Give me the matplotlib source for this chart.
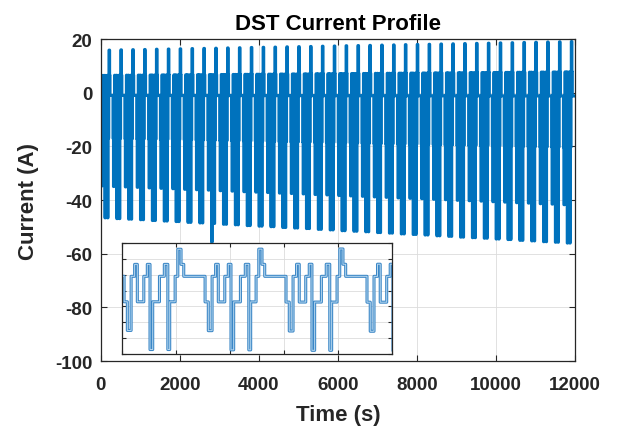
""" DST current profile over a full discharge, with a zoomed inset of a few cycles. """

import numpy
import matplotlib
matplotlib.use('Agg')
import matplotlib.pyplot as plt
import matplotlib.patheffects as pe

plt.rcParams['font.family'] = ['Liberation Sans', 'DejaVu Sans']
plt.rcParams['font.weight'] = 'bold'
plt.rcParams['axes.unicode_minus'] = False

# One DST cycle: step durations (s) and currents (A)
step_dur = [12, 14, 13, 10, 24, 13, 10, 10, 25, 18, 13, 7, 20, 10, 12, 10, 79]
step_level = [-17, -35, -1, 6.5, -17, -1, 6.5, -47, -17, -1, 6.5, -47,
              -17, -1, 16, 6.5, -1]
first_cycle_t = -292   # start of the first (partial) cycle, s

# Deepest discharge current of each cycle (grows as the cell voltage falls)
deep_peak = [-46.5, -46.6, -46.9, -47.1, -47.3, -47.6, -47.8, -48.0, -48.3,
             -48.5, -48.7, -49.0, -49.2, -49.5, -49.7, -49.9, -50.2, -50.4,
             -50.6, -50.9, -51.1, -51.4, -51.6, -51.8, -52.1, -52.3, -52.6,
             -52.8, -53.0, -53.3, -53.5, -53.8, -54.0, -54.2, -54.5, -54.7,
             -55.0, -55.2, -55.5, -55.7, -56.0]

# measurement glitch: (cycle index, step index, current)
glitch = (10, 7, -55.7)

xticks = [0, 2000, 4000, 6000, 8000, 10000, 12000]
yticks = [-100, -80, -60, -40, -20, 0, 20]
inset_xlim = (600, 1600)
inset_ylim = (-50, 20)

# build the step series
period = sum(step_dur)
offs = numpy.concatenate([[0], numpy.cumsum(step_dur)[:-1]])
t, cur = [], []
for k, peak in enumerate(deep_peak):
    scale = peak / min(step_level)
    t0 = first_cycle_t + k * period
    for j, (o, lv) in enumerate(zip(offs, step_level)):
        val = lv * scale
        if (k, j) == glitch[:2]:
            val = glitch[2]
        t.append(t0 + o)
        cur.append(val)
t.append(first_cycle_t + len(deep_peak) * period)
cur.append(cur[-1])
t = numpy.asarray(t, dtype=float)
cur = numpy.asarray(cur)

blue = '#0072BD'
dark = '#262626'


def matlab_axes(ax):
    ax.tick_params(direction='in', top=True, right=True, length=4,
                   width=0.8, colors=dark)
    for s in ax.spines.values():
        s.set_color(dark)
        s.set_linewidth(0.9)
    ax.grid(True, color='#dcdcdc', lw=0.6)
    ax.set_axisbelow(True)


fig = plt.figure(figsize=(6.19, 4.31), dpi=100)
ax = fig.add_axes([0.163, 0.160, 0.766, 0.747])
ax.plot(t, cur, drawstyle='steps-post', color=blue, lw=2.3)
ax.set_xlim(0, 12000)
ax.set_ylim(-100, 20)
ax.set_xticks(xticks)
ax.set_yticks(yticks)
matlab_axes(ax)
ax.tick_params(axis='x', pad=11)
ax.tick_params(axis='y', pad=6)
for lab in ax.get_xticklabels() + ax.get_yticklabels():
    lab.set_fontsize(13.5)
    lab.set_fontweight('bold')
ax.set_xlabel('Time (s)', fontsize=16, fontweight='bold', color=dark,
              labelpad=8)
ax.set_ylabel('Current (A)', fontsize=16, fontweight='bold', color=dark,
              labelpad=12)
ax.set_title('DST Current Profile', fontsize=16, fontweight='bold',
             color='k', pad=7)

# inset
axi = fig.add_axes([0.197, 0.176, 0.436, 0.258])
axi.set_facecolor('white')
axi.plot(t, cur, drawstyle='steps-post', color='#b9d9f0', lw=0.7,
         path_effects=[pe.Stroke(linewidth=2.2, foreground='#3a86c6'),
                       pe.Normal()])
axi.set_xlim(*inset_xlim)
axi.set_ylim(*inset_ylim)
axi.set_xticks(numpy.arange(inset_xlim[0], inset_xlim[1] + 1, 200))
axi.set_yticks(numpy.arange(inset_ylim[0], inset_ylim[1] + 1, 10))
axi.set_xticklabels([])
axi.set_yticklabels([])
matlab_axes(axi)
axi.tick_params(length=3)

fig.savefig('out.png', dpi=100)
